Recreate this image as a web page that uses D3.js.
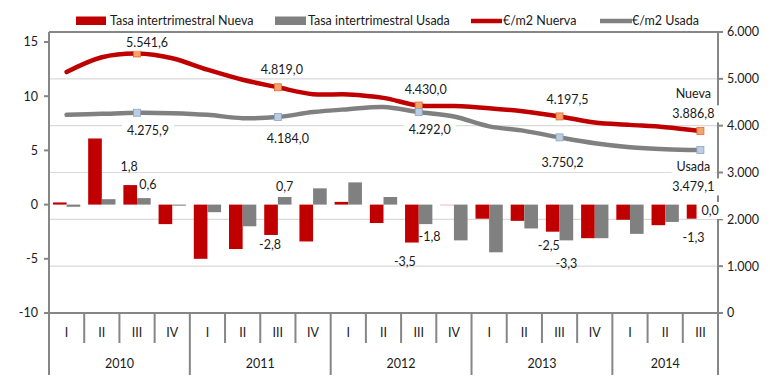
<!DOCTYPE html>
<html><head><meta charset="utf-8">
<script src="https://cdn.jsdelivr.net/npm/d3@7"></script>
<style>body{margin:0;background:#fff}svg{display:block;font-family:Lato,"Open Sans",sans-serif}</style>
</head><body><svg id="c" width="770" height="380"></svg>
<script>
const years = ["2010","2011","2012","2013","2014"];
const quarters = ["I","II","III","IV","I","II","III","IV","I","II","III","IV","I","II","III","IV","I","II","III"];
const quarterYear = [0,0,0,0,1,1,1,1,2,2,2,2,3,3,3,3,4,4,4];
const tasaNueva = [0.2,6.1,1.8,-1.8,-5.0,-4.1,-2.8,-3.4,0.25,-1.7,-3.5,-0.05,-1.3,-1.5,-2.5,-3.1,-1.4,-1.9,-1.3];
const tasaUsada = [-0.2,0.5,0.6,-0.1,-0.7,-2.0,0.7,1.5,2.05,0.7,-1.8,-3.3,-4.4,-2.2,-3.3,-3.1,-2.7,-1.6,0.0];
const precioNueva = [5145,5460,5541.6,5440,5195,4980,4819.0,4673,4668,4594,4430.0,4420,4374,4302,4197.5,4067,4017,3967,3886.8];
const precioUsada = [4231,4252,4275.9,4266,4231,4160,4184.0,4290,4352,4400,4292.0,4195,3985,3889,3750.2,3626,3541,3498,3479.1];
const labelIdx = [2,6,10,14,18];
const leftTicks = [-10,-5,0,5,10,15];
const rightTicks = [0,1000,2000,3000,4000,5000,6000];
const legendLabels = ["Tasa intertrimestral Nueva","Tasa intertrimestral Usada","€/m2 Nuerva","€/m2 Usada"];
const endNames = ["Nueva","Usada"];

const RED="#C00000", GRAY="#808080", AX="#868686";
const loc = d3.formatLocale({decimal:",",thousands:".",grouping:[3],currency:["","€"],minus:"-"});
const fmt1 = loc.format(",.1f"), fmt0 = loc.format(",.0f");

const svg = d3.select("#c");
const L=49, R=718, T=32, B=313;
const x = d3.scaleBand().domain(d3.range(quarters.length)).range([L,R]);
const sub = d3.scaleBand().domain([0,1]).range([0,x.bandwidth()]).paddingOuter(0.29);
const yL = d3.scaleLinear().domain([-10,15]).range([B,42]);
const yR = d3.scaleLinear().domain([0,6000]).range([B,T]);

// gridlines
svg.append("g").selectAll("line").data(rightTicks.slice(1,-1)).join("line")
  .attr("x1",L).attr("x2",R).attr("y1",d=>yR(d)).attr("y2",d=>yR(d))
  .attr("stroke","#dadada").attr("stroke-width",1.2);

// bars
const bars = svg.append("g");
[tasaNueva,tasaUsada].forEach((arr,s)=>{
  bars.append("g").selectAll("rect").data(arr).join("rect")
    .attr("x",(d,i)=>x(i)+sub(s)).attr("width",sub.bandwidth())
    .attr("y",d=>yL(Math.max(0,d))).attr("height",d=>Math.max(0.8,Math.abs(yL(d)-yL(0))))
    .attr("fill",s?GRAY:RED).attr("opacity",(d)=>Math.abs(d)<0.1&&!s?0.35:1);
});

// lines
const cx = i=>x(i)+x.bandwidth()/2;
[[precioNueva,RED],[precioUsada,GRAY]].forEach(([arr,col])=>{
  svg.append("path").datum(arr)
    .attr("d",d3.line().x((d,i)=>cx(i)).y(d=>yR(d)).curve(d3.curveCatmullRom.alpha(0.5)))
    .attr("fill","none").attr("stroke",col).attr("stroke-width",4.5).attr("stroke-linecap","round");
});
// markers
svg.append("g").selectAll("rect").data(labelIdx).join("rect")
  .attr("x",i=>cx(i)-3.5).attr("y",i=>yR(precioNueva[i])-3.5).attr("width",7).attr("height",7)
  .attr("fill","#F4A46A").attr("stroke","#E06A2A").attr("stroke-width",0.8);
svg.append("g").selectAll("rect").data(labelIdx).join("rect")
  .attr("x",i=>cx(i)-3.5).attr("y",i=>yR(precioUsada[i])-3.5).attr("width",7).attr("height",7)
  .attr("fill","#B9CDE5").attr("stroke","#8FA3BD").attr("stroke-width",0.8);

// axes frame
const ax = svg.append("g").attr("stroke",AX).attr("stroke-width",2).attr("fill","none");
ax.append("line").attr("x1",L).attr("x2",L).attr("y1",T).attr("y2",375);
ax.append("line").attr("x1",R).attr("x2",R).attr("y1",T).attr("y2",375);
ax.append("line").attr("x1",L).attr("x2",R).attr("y1",T).attr("y2",T);
ax.append("line").attr("x1",L).attr("x2",R).attr("y1",B).attr("y2",B);
// separators
d3.range(1,quarters.length).forEach(i=>{
  const newYear = quarterYear[i]!==quarterYear[i-1];
  ax.append("line").attr("x1",x(i)).attr("x2",x(i)).attr("y1",B).attr("y2",newYear?375:343);
});
// ticks
ax.selectAll(".tl").data(leftTicks).join("line").attr("x1",L-5).attr("x2",L).attr("y1",d=>yL(d)).attr("y2",d=>yL(d));
ax.selectAll(".tr").data(rightTicks).join("line").attr("x1",R).attr("x2",R+5).attr("y1",d=>yR(d)).attr("y2",d=>yR(d));

const txt = svg.append("g").attr("font-size",12.5).attr("fill","#1a1a1a");
txt.selectAll(".lt").data(leftTicks).join("text").attr("x",38).attr("y",d=>yL(d)).attr("dy","0.35em")
  .attr("text-anchor","end").text(d=>d);
txt.selectAll(".rt").data(rightTicks).join("text").attr("x",727).attr("y",d=>yR(d)).attr("dy","0.35em")
  .text(d=>fmt0(d));
txt.selectAll(".q").data(quarters).join("text").attr("x",(d,i)=>cx(i)).attr("y",333).attr("dy","0.35em")
  .attr("text-anchor","middle").text(d=>d);
years.forEach((yv,k)=>{
  const idx = quarterYear.map((q,i)=>q===k?i:-1).filter(i=>i>=0);
  const xm = (x(idx[0]) + x(idx[idx.length-1])+x.bandwidth())/2;
  txt.append("text").attr("x",xm).attr("y",364).attr("dy","0.35em").attr("text-anchor","middle").text(yv);
});

// line labels with white boxes
function boxLabel(xc,yc,t){
  const g = svg.append("g");
  const tt = g.append("text").attr("x",xc).attr("y",yc).attr("dy","0.35em").attr("text-anchor","middle")
    .attr("font-size",12.5).attr("fill","#1a1a1a").text(t);
  const bb = tt.node().getBBox();
  g.insert("rect","text").attr("x",bb.x-5).attr("y",bb.y-1).attr("width",bb.width+10).attr("height",bb.height+2).attr("fill","#fff");
}
const nOff = [[10,-11],[4,-18],[7,-16],[8,-17],[-7,-17]];
const uOff = [[11,18],[10,22],[11,18],[3,25],[-7,17]];
labelIdx.forEach((i,k)=>{
  const last = k===labelIdx.length-1;
  const yn = yR(precioNueva[i])+nOff[k][1], yu = yR(precioUsada[i])+uOff[k][1];
  if(last){
    boxLabel(cx(i)+nOff[k][0],yn-20,endNames[0]);
    boxLabel(cx(i)+uOff[k][0],yu,endNames[1]);
    boxLabel(cx(i)+nOff[k][0],yn,fmt1(precioNueva[i]));
    boxLabel(cx(i)+uOff[k][0],yu+20,fmt1(precioUsada[i]));
  } else {
    boxLabel(cx(i)+nOff[k][0],yn,fmt1(precioNueva[i]));
    boxLabel(cx(i)+uOff[k][0],yu,fmt1(precioUsada[i]));
  }
});
// bar labels
const bnOff = [[-1,-18],[-1,10],[-7,19],[-4,14],[0,19]];
const buOff = [[4,-13],[0,-10],[4,13],[0,23],[3,6]];
labelIdx.forEach((i,k)=>{
  const vn = tasaNueva[i], vu = tasaUsada[i];
  const xn = x(i)+sub(0)+sub.bandwidth()/2, xu = x(i)+sub(1)+sub.bandwidth()/2;
  txt.append("text").attr("x",xn+bnOff[k][0]).attr("y",yL(vn)+bnOff[k][1]).attr("dy","0.35em")
    .attr("text-anchor","middle").text(fmt1(vn));
  if(k===4){
    boxLabel(xu+buOff[k][0],yL(vu)+buOff[k][1],fmt1(vu));
  } else {
    txt.append("text").attr("x",xu+buOff[k][0]).attr("y",yL(vu)+buOff[k][1]).attr("dy","0.35em")
      .attr("text-anchor","middle").text(fmt1(vu));
  }
});

// legend
const lg = svg.append("g").attr("font-size",12.5).attr("fill","#1a1a1a");
lg.append("rect").attr("x",76).attr("y",16.5).attr("width",30).attr("height",8.5).attr("fill",RED);
lg.append("text").attr("x",110).attr("y",21).attr("dy","0.35em").text(legendLabels[0]);
lg.append("rect").attr("x",275).attr("y",16.5).attr("width",31).attr("height",8.5).attr("fill",GRAY);
lg.append("text").attr("x",308).attr("y",21).attr("dy","0.35em").text(legendLabels[1]);
lg.append("line").attr("x1",471).attr("x2",502).attr("y1",21).attr("y2",21).attr("stroke",RED).attr("stroke-width",4.5);
lg.append("text").attr("x",503).attr("y",21).attr("dy","0.35em").text(legendLabels[2]);
lg.append("line").attr("x1",600).attr("x2",632).attr("y1",21).attr("y2",21).attr("stroke",GRAY).attr("stroke-width",4.5);
lg.append("text").attr("x",632).attr("y",21).attr("dy","0.35em").text(legendLabels[3]);
</script></body></html>
